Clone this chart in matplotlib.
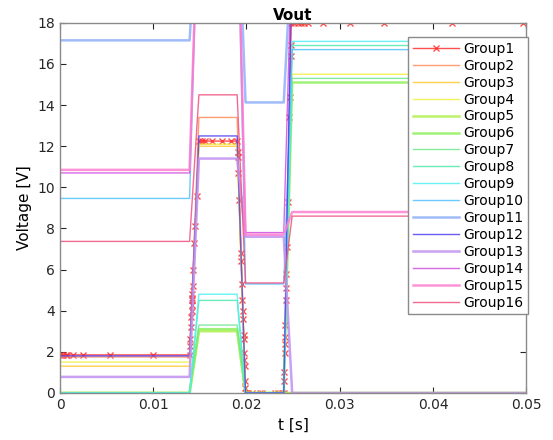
import matplotlib
matplotlib.use('Agg')
import matplotlib.pyplot as plt
import numpy as np

# breakpoints of the piecewise signals (s)
t_break = [0, 0.0139, 0.0149, 0.0190, 0.0199, 0.0240, 0.0249, 0.05]

labels = ['Group%d' % i for i in range(1, 17)]
colors = ['#ff3030', '#ff8c5a', '#ffc830', '#eef040', '#b0f050', '#90f060',
          '#70e890', '#50e8b0', '#50f0f0', '#50c0ff', '#90b0f8', '#5040f0',
          '#c090f0', '#d050e0', '#ff80d0', '#f05080']
widths = [1, 1, 1, 1, 1.8, 1.8, 1, 1, 1, 1, 1.8, 1, 1.8, 1, 1.8, 1]

# plateau levels (V) for groups 2..16, phases 1..4
phase1 = [1.75, 1.30, 1.50, 0.00, 0.00, 0.00, 0.00, 0.00, 9.46, 17.15, 1.80, 0.78, 10.70, 10.85, 7.37]
phase2 = [13.4, 12.0, 12.1, 3.0, 3.1, 3.3, 4.5, 4.8, 25.0, 25.0, 12.5, 11.4, 25.0, 25.0, 14.5]
phase3 = [0.0, 0.0, 0.0, 0.0, 0.0, 0.0, 0.0, 0.0, 5.3, 14.13, 0.0, 7.6, 7.8, 7.7, 5.35]
phase4 = [0.0, 0.0, 15.5, 0.0, 15.1, 15.3, 16.9, 17.1, 16.7, 22.0, 22.0, 0.0, 22.0, 8.8, 8.6]

# Group1 samples (solver steps, marked with x)
t_g1 = [0, 0.0003, 0.0006, 0.0008, 0.0014, 0.0025, 0.0054, 0.0100, 0.0139,
        0.01394, 0.01397, 0.01403, 0.01408, 0.01411, 0.01414, 0.01415, 0.01416,
        0.01418, 0.01422, 0.0143, 0.01442, 0.0145, 0.01465,
        0.0149, 0.0152, 0.0156, 0.0163, 0.0174, 0.0183, 0.0190,
        0.01904, 0.01906, 0.01911, 0.01921, 0.0194, 0.01943, 0.01951, 0.01957,
        0.01961, 0.01964, 0.01969, 0.01971, 0.01976, 0.01978, 0.0198, 0.01986,
        0.01988, 0.0199,
        0.0202, 0.0206, 0.0215, 0.0217, 0.0231, 0.0234, 0.0238, 0.0240,
        0.02403, 0.02404, 0.02409, 0.02411, 0.02412, 0.02415, 0.0242, 0.02423,
        0.02426, 0.02432, 0.02441, 0.0246, 0.02464, 0.02473, 0.02475, 0.0248,
        0.02505, 0.02548, 0.0258, 0.02613, 0.02656, 0.0282, 0.0311, 0.0348,
        0.0420, 0.0497]
v_g1 = [1.85, 1.85, 1.85, 1.85, 1.85, 1.85, 1.85, 1.85, 1.85,
        2.3, 2.6, 3.2, 3.7, 4.0, 4.3, 4.5, 4.6,
        4.8, 5.2, 6.0, 7.3, 8.1, 9.6,
        12.25, 12.25, 12.25, 12.25, 12.25, 12.25, 12.25,
        11.7, 11.5, 10.7, 9.4, 6.8, 6.4, 5.3, 4.5,
        4.0, 3.6, 2.8, 2.6, 1.95, 1.6, 1.3, 0.6,
        0.25, 0.0,
        0.0, 0.0, 0.0, 0.0, 0.0, 0.0, 0.0, 0.0,
        0.6, 1.0, 1.95, 2.4, 2.7, 3.3, 4.5, 5.1,
        5.8, 7.1, 9.3, 13.4, 14.4, 16.4, 16.9, 18.0,
        18.0, 18.0, 18.0, 18.0, 18.0, 18.0, 18.0, 18.0,
        18.0, 18.0]

fig = plt.figure(figsize=(5.53, 4.40), dpi=100)
ax = fig.add_axes([0.1085, 0.107, 0.843, 0.841])

ax.plot(t_g1, v_g1, color=colors[0], marker='x', markersize=5, linewidth=1,
        label=labels[0], alpha=0.85)
for i in range(15):
    y = [phase1[i], phase1[i], phase2[i], phase2[i], phase3[i], phase3[i], phase4[i], phase4[i]]
    ax.plot(t_break, y, color=colors[i + 1], linewidth=widths[i + 1],
            label=labels[i + 1], alpha=0.85)

ax.set_xlim(0, 0.05)
ax.set_ylim(0, 18)
ax.set_xticks(np.arange(0, 0.051, 0.01))
ax.set_xticklabels(['0', '0.01', '0.02', '0.03', '0.04', '0.05'])
ax.set_yticks(np.arange(0, 19, 2))
ax.tick_params(direction='in', top=True, right=True, labelsize=10,
               colors='#262626', length=4)
for s in ax.spines.values():
    s.set_color('#8a8a8a')
    s.set_linewidth(1)

ax.set_title('Vout', fontsize=11, fontweight='bold', pad=2)
ax.set_xlabel('t [s]', fontsize=11)
ax.set_ylabel('Voltage [V]', fontsize=11)

leg = ax.legend(loc='upper right', bbox_to_anchor=(1.004, 0.962), fontsize=10,
                handlelength=3.3, labelspacing=0.21, borderpad=0.35,
                borderaxespad=0, handletextpad=0.3, fancybox=False, framealpha=1)
leg.get_frame().set_edgecolor('#8a8a8a')
leg.get_frame().set_linewidth(1)

fig.savefig('out.png', dpi=100)
